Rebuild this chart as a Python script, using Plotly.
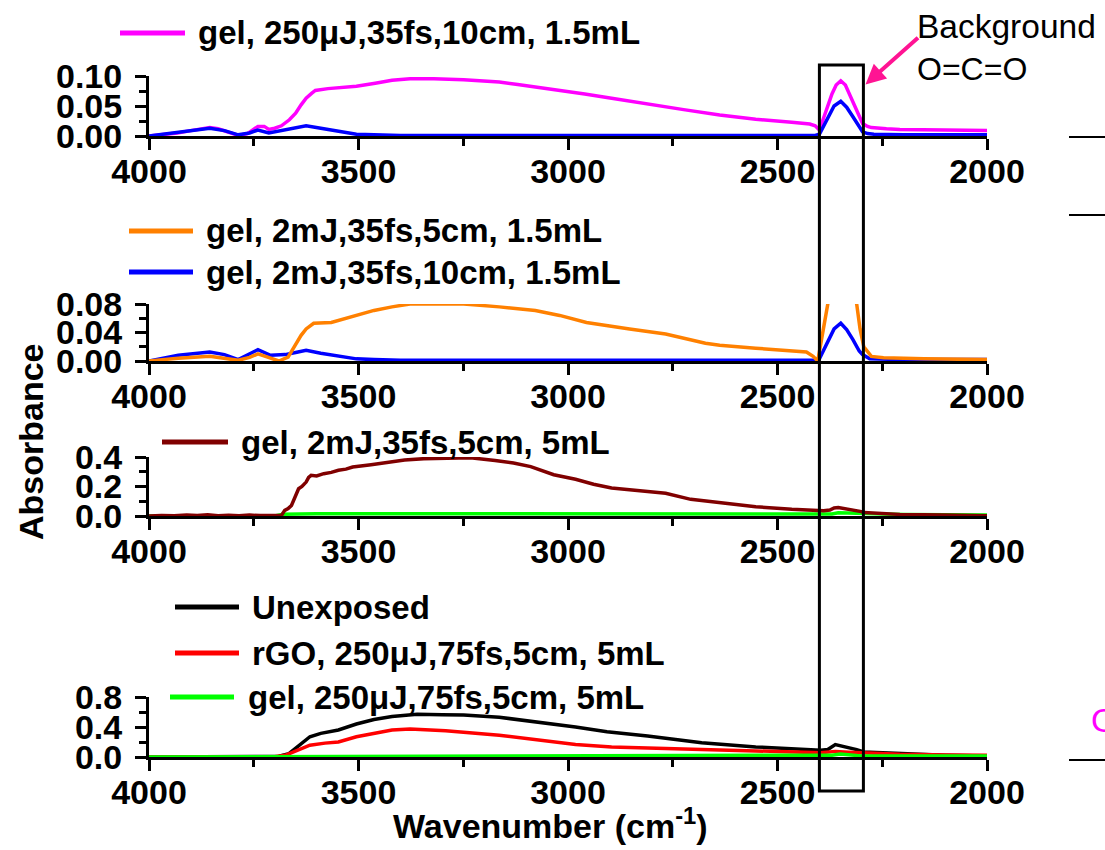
import plotly.graph_objects as go

# ---------------- data ----------------
names_p1 = ["gel, 250μJ,35fs,10cm, 1.5mL"]
names_p2 = ["gel, 2mJ,35fs,5cm, 1.5mL", "gel, 2mJ,35fs,10cm, 1.5mL"]
names_p3 = ["gel, 2mJ,35fs,5cm, 5mL"]
names_p4 = ["Unexposed", "rGO, 250μJ,75fs,5cm, 5mL", "gel, 250μJ,75fs,5cm, 5mL"]

wn_magenta = [4000, 3960, 3932, 3900, 3870, 3855, 3835, 3810, 3787, 3765, 3740, 3725, 3714, 3700, 3684,
              3665, 3650, 3637, 3625, 3612, 3603, 3573, 3540, 3505, 3460, 3420, 3377, 3320, 3249, 3164,
              3120, 3078, 3020, 2960, 2896, 2810, 2724, 2638, 2552, 2466, 2423, 2410, 2400, 2385, 2370,
              2360, 2349, 2338, 2325, 2310, 2297, 2285, 2276, 2240, 2208, 2100, 2000]
abs_magenta = [0.000, 0.003, 0.005, 0.009, 0.012, 0.014, 0.012, 0.006, 0.001, 0.004, 0.016, 0.016, 0.011,
               0.013, 0.017, 0.027, 0.038, 0.052, 0.063, 0.071, 0.076, 0.079, 0.081, 0.083, 0.088, 0.093,
               0.0955, 0.0955, 0.094, 0.090, 0.086, 0.082, 0.076, 0.070, 0.063, 0.053, 0.044, 0.035, 0.028,
               0.023, 0.020, 0.017, 0.010, 0.040, 0.070, 0.085, 0.092, 0.085, 0.065, 0.040, 0.021, 0.016,
               0.014, 0.012, 0.011, 0.010, 0.009]

wn_blue1 = [4000, 3930, 3855, 3820, 3787, 3760, 3740, 3714, 3690, 3675, 3650, 3625, 3590, 3540, 3505, 3463,
            3400, 3000, 2600, 2410, 2400, 2380, 2365, 2349, 2335, 2320, 2305, 2297, 2285, 2270, 2200, 2000]
abs_blue1 = [0.000, 0.006, 0.013, 0.009, 0.002, 0.005, 0.010, 0.005, 0.008, 0.010, 0.013, 0.017, 0.013,
             0.007, 0.003, 0.002, 0.001, 0.001, 0.001, 0.001, 0.003, 0.030, 0.050, 0.058, 0.048, 0.032,
             0.015, 0.007, 0.004, 0.003, 0.002, 0.002]

wn_orange = [4000, 3930, 3855, 3820, 3787, 3760, 3740, 3715, 3690, 3668, 3650, 3637, 3625, 3607, 3565,
             3505, 3463, 3420, 3377, 3300, 3249, 3164, 3078, 3020, 2956, 2853, 2767, 2672, 2638, 2552,
             2431, 2415, 2404, 2395, 2385, 2378, 2365, 2349, 2335, 2320, 2311, 2303, 2294, 2276, 2247,
             2150, 2000]
abs_orange = [0.000, 0.004, 0.0065, 0.004, 0.001, 0.005, 0.010, 0.005, 0.000, 0.0055, 0.024, 0.036, 0.045,
              0.053, 0.054, 0.064, 0.071, 0.076, 0.080, 0.0805, 0.080, 0.076, 0.071, 0.064, 0.054, 0.045,
              0.038, 0.025, 0.022, 0.018, 0.0126, 0.0065, 0.000, 0.030, 0.065, 0.090, 0.130, 0.150, 0.135,
              0.100, 0.080, 0.045, 0.020, 0.0065, 0.0047, 0.003, 0.002]

wn_blue2 = [4000, 3930, 3855, 3820, 3787, 3760, 3740, 3710, 3675, 3650, 3625, 3590, 3540, 3505, 3463, 3400,
            3000, 2600, 2410, 2400, 2380, 2365, 2349, 2335, 2320, 2305, 2297, 2280, 2200, 2000]
abs_blue2 = [0.000, 0.008, 0.0126, 0.009, 0.002, 0.010, 0.016, 0.008, 0.009, 0.012, 0.015, 0.011, 0.0056,
             0.003, 0.002, 0.001, 0.001, 0.001, 0.001, 0.003, 0.028, 0.045, 0.053, 0.044, 0.030, 0.014,
             0.009, 0.003, 0.002, 0.002]

wn_brown = [4000, 3970, 3940, 3910, 3885, 3860, 3835, 3810, 3785, 3760, 3735, 3710, 3690, 3684, 3676, 3668,
            3660, 3652, 3643, 3635, 3625, 3619, 3613, 3600, 3583, 3565, 3548, 3530, 3514, 3470, 3429, 3390,
            3344, 3290, 3233, 3174, 3130, 3089, 3068, 3034, 2982, 2939, 2896, 2810, 2767, 2707, 2638, 2552,
            2466, 2405, 2390, 2375, 2365, 2355, 2340, 2320, 2300, 2294, 2250, 2208, 2100, 2000]
abs_brown = [0.000, 0.004, 0.002, 0.006, 0.003, 0.008, 0.002, 0.005, 0.001, 0.006, 0.003, 0.004, 0.002,
             0.004, 0.038, 0.050, 0.072, 0.120, 0.185, 0.200, 0.230, 0.262, 0.276, 0.272, 0.287, 0.296,
             0.310, 0.318, 0.332, 0.348, 0.366, 0.380, 0.389, 0.393, 0.395, 0.377, 0.360, 0.335, 0.316,
             0.280, 0.249, 0.215, 0.190, 0.169, 0.154, 0.113, 0.090, 0.063, 0.045, 0.034, 0.035, 0.040,
             0.055, 0.057, 0.050, 0.045, 0.030, 0.023, 0.015, 0.011, 0.006, 0.002]

wn_green3 = [4000, 3700, 3680, 3600, 3400, 3200, 3000, 2800, 2600, 2400, 2370, 2355, 2330, 2300, 2200, 2000]
abs_green3 = [0.000, 0.000, 0.012, 0.015, 0.016, 0.016, 0.016, 0.015, 0.014, 0.012, 0.014, 0.022, 0.020,
              0.012, 0.010, 0.007]

wn_black = [4000, 3800, 3720, 3690, 3666, 3641, 3616, 3590, 3548, 3505, 3463, 3420, 3360, 3300, 3249, 3164,
            3078, 3020, 2982, 2907, 2810, 2681, 2552, 2397, 2380, 2362, 2336, 2311, 2294, 2208, 2100, 2000]
abs_black = [0.000, 0.000, 0.003, 0.010, 0.045, 0.157, 0.270, 0.315, 0.360, 0.440, 0.500, 0.540, 0.570,
             0.565, 0.560, 0.530, 0.470, 0.430, 0.400, 0.337, 0.280, 0.190, 0.135, 0.090, 0.099, 0.166,
             0.135, 0.099, 0.067, 0.045, 0.025, 0.013]

wn_red = [4000, 3800, 3700, 3675, 3641, 3616, 3580, 3548, 3505, 3463, 3420, 3377, 3292, 3164, 3078, 3020,
          2982, 2896, 2724, 2552, 2397, 2362, 2330, 2294, 2208, 2100, 2000]
abs_red = [0.000, 0.000, 0.003, 0.022, 0.100, 0.157, 0.185, 0.200, 0.270, 0.320, 0.360, 0.373, 0.350, 0.290,
           0.234, 0.200, 0.166, 0.135, 0.103, 0.081, 0.058, 0.075, 0.065, 0.054, 0.036, 0.028, 0.022]

wn_green4 = [4000, 3760, 3740, 3725, 3700, 3600, 3400, 3000, 2600, 2400, 2370, 2350, 2330, 2300, 2200, 2000]
abs_green4 = [0.000, 0.002, 0.012, 0.004, 0.012, 0.015, 0.016, 0.016, 0.015, 0.014, 0.025, 0.040, 0.030,
              0.015, 0.014, 0.013]

x_ticks = [4000, 3500, 3000, 2500, 2000]
y_ticks = [[0.0, 0.05, 0.10], [0.0, 0.04, 0.08], [0.0, 0.2, 0.4], [0.0, 0.4, 0.8]]
y_fmt = ["{:.2f}", "{:.2f}", "{:.1f}", "{:.1f}"]
co2_band = [2400, 2295]

# ---------------- styling / layout ----------------
W, H = 1105, 850
FONT = "Liberation Sans"
MAGENTA, BLUE, ORANGE, BROWN = "#FF00FF", "#0000FF", "#FF8000", "#800000"
BLACK, RED, GREEN, PINK = "#000000", "#FF0000", "#00FF00", "#FF1493"
LW = 3.5


def py(p):  # pixel y -> paper
    return 1 - p / H


def px(p):
    return p / W


panel_pix = [(76, 136), (304, 361), (457, 516), (697, 757)]
x_dom = [px(149), px(987)]

fig = go.Figure()

series = [
    (1, wn_magenta, abs_magenta, MAGENTA),
    (1, wn_blue1, abs_blue1, BLUE),
    (2, wn_blue2, abs_blue2, BLUE),
    (2, wn_orange, abs_orange, ORANGE),
    (3, wn_green3, abs_green3, GREEN),
    (3, wn_brown, abs_brown, BROWN),
    (4, wn_black, abs_black, BLACK),
    (4, wn_red, abs_red, RED),
    (4, wn_green4, abs_green4, GREEN),
]
for k, xs, ys, col in series:
    sfx = "" if k == 1 else str(k)
    fig.add_trace(go.Scatter(x=xs, y=ys, mode="lines", line=dict(color=col, width=LW),
                             xaxis="x" + sfx, yaxis="y" + sfx, showlegend=False,
                             hoverinfo="skip"))

layout = dict(width=W, height=H, margin=dict(l=0, r=0, t=0, b=0, autoexpand=False),
              paper_bgcolor="white", plot_bgcolor="white", showlegend=False)

for i, (top, bot) in enumerate(panel_pix):
    k = i + 1
    sfx = "" if k == 1 else str(k)
    yt = y_ticks[i]
    step = yt[1] - yt[0]
    layout["xaxis" + sfx] = dict(
        domain=x_dom, range=[4000, 2000], anchor="y" + sfx, automargin=False,
        tickmode="array", tickvals=x_ticks, ticktext=[str(v) for v in x_ticks],
        ticks="outside", ticklen=11, tickwidth=3, tickcolor="black",
        minor=dict(ticks="outside", ticklen=7, tickwidth=3, tickcolor="black",
                   tickmode="array", tickvals=[3750, 3250, 2750, 2250]),
        showline=True, linewidth=3, linecolor="black", layer="below traces",
        showgrid=False, zeroline=False, ticklabelstandoff=-8,
        tickfont=dict(family=FONT, size=34, color="black", weight="bold"))
    layout["yaxis" + sfx] = dict(
        domain=[py(bot), py(top)], range=[0, yt[-1] * 1.0005], anchor="x" + sfx, automargin=False,
        tickmode="array", tickvals=yt, ticktext=[y_fmt[i].format(v) for v in yt],
        ticks="outside", ticklen=11, tickwidth=3, tickcolor="black",
        minor=dict(ticks="outside", ticklen=7, tickwidth=3, tickcolor="black",
                   tickmode="array", tickvals=[yt[0] + step / 2, yt[1] + step / 2]),
        showline=True, linewidth=3, linecolor="black", layer="below traces",
        showgrid=False, zeroline=False, ticklabelstandoff=6,
        tickfont=dict(family=FONT, size=34, color="black", weight="bold"))

fig.update_layout(**layout)

shapes = []
annotations = []

# manual legends (line sample + label)
legend_items = [
    (names_p1[0], MAGENTA, 120, 185, 196, 33),
    (names_p2[0], ORANGE, 129, 193, 204, 231),
    (names_p2[1], BLUE, 129, 193, 204, 272),
    (names_p3[0], BROWN, 162, 228, 239, 442),
    (names_p4[0], BLACK, 175, 239, 250, 607),
    (names_p4[1], RED, 175, 239, 250, 653),
    (names_p4[2], GREEN, 170, 234, 246, 697),
]
for txt, col, x0, x1, tx, yy in legend_items:
    shapes.append(dict(type="line", xref="paper", yref="paper", x0=px(x0), x1=px(x1),
                       y0=py(yy), y1=py(yy), line=dict(color=col, width=5)))
    annotations.append(dict(text=txt, xref="paper", yref="paper", x=px(tx), y=py(yy),
                            xanchor="left", yanchor="middle", showarrow=False,
                            font=dict(family=FONT, size=33, color="black", weight="bold")))

# CO2 band box spanning all panels
shapes.append(dict(type="rect", xref="x", yref="paper", x0=co2_band[0], x1=co2_band[1],
                   y0=py(791), y1=py(65), line=dict(color="black", width=3),
                   fillcolor="rgba(0,0,0,0)"))

# stray edge lines at the right border
for yy in [137, 215, 760]:
    shapes.append(dict(type="line", xref="paper", yref="paper", x0=px(1069), x1=1.0,
                       y0=py(yy), y1=py(yy), line=dict(color="black", width=2)))

annotations.append(dict(text="O", xref="paper", yref="paper", x=px(1089), y=py(720),
                        xanchor="left", yanchor="middle", showarrow=False,
                        font=dict(family=FONT, size=34, color=MAGENTA)))

# Background CO2 annotation
annotations.append(dict(text="Background", xref="paper", yref="paper", x=px(915), y=py(27),
                        xanchor="left", yanchor="middle", showarrow=False,
                        font=dict(family=FONT, size=33.5, color="black")))
annotations.append(dict(text="O=C=O", xref="paper", yref="paper", x=px(915), y=py(69),
                        xanchor="left", yanchor="middle", showarrow=False,
                        font=dict(family=FONT, size=32, color="black")))
annotations.append(dict(text="", xref="x", yref="y", x=2290, y=0.086, ax=54, ay=-48,
                        showarrow=True, arrowhead=2, arrowsize=1, arrowwidth=4,
                        arrowcolor=PINK))

# axis titles
annotations.append(dict(text="Absorbance", xref="paper", yref="paper", x=px(31), y=py(442),
                        xanchor="center", yanchor="middle", textangle=-90, showarrow=False,
                        font=dict(family=FONT, size=34, color="black", weight="bold")))
annotations.append(dict(text="Wavenumber (cm<sup>-1</sup>)", xref="paper", yref="paper",
                        x=px(550), y=py(823), xanchor="center", yanchor="middle", showarrow=False,
                        font=dict(family=FONT, size=34, color="black", weight="bold")))

fig.update_layout(shapes=shapes, annotations=annotations)
fig.write_html("out.html")
